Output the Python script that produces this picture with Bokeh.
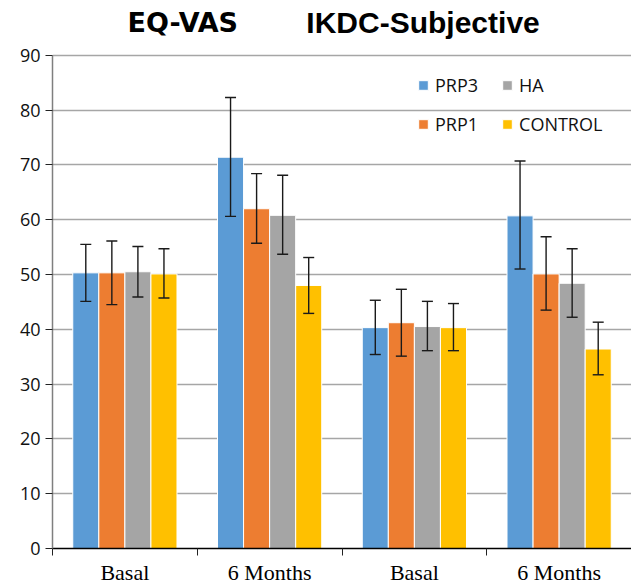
from bokeh.plotting import figure
from bokeh.models import (ColumnDataSource, Whisker, TeeHead, FixedTicker, Range1d,
                          Legend, LegendItem, Label)
from bokeh.embed import file_html
from bokeh.resources import INLINE

# ---- data ----
categories = ["Basal", "6 Months", "Basal", "6 Months"]
series = ["PRP3", "PRP1", "HA", "CONTROL"]
colors = ["#5B9BD5", "#ED7D31", "#A5A5A5", "#FFC000"]
prp3 = [50.3, 71.4, 40.3, 60.7]
prp3_hi = [55.5, 82.3, 45.3, 70.7]
prp3_lo = [45.1, 60.6, 35.4, 51.0]
prp1 = [50.3, 62.0, 41.2, 50.1]
prp1_hi = [56.1, 68.4, 47.3, 56.9]
prp1_lo = [44.5, 55.7, 35.1, 43.5]
ha = [50.5, 60.8, 40.5, 48.4]
ha_hi = [55.1, 68.1, 45.1, 54.7]
ha_lo = [45.9, 53.7, 36.1, 42.2]
control = [50.1, 48.0, 40.3, 36.4]
control_hi = [54.7, 53.1, 44.7, 41.3]
control_lo = [45.7, 42.9, 36.1, 31.7]
y_ticks = [0, 10, 20, 30, 40, 50, 60, 70, 80, 90]
titles = ["EQ-VAS", "IKDC-Subjective"]

values = [prp3, prp1, ha, control]
highs = [prp3_hi, prp1_hi, ha_hi, control_hi]
lows = [prp3_lo, prp1_lo, ha_lo, control_lo]

bar_w = 0.18
n = len(categories)

p = figure(width=631, height=587, output_backend="svg", toolbar_location=None,
           x_range=Range1d(0, n), y_range=Range1d(0, 100),
           min_border_left=52, min_border_right=0, min_border_top=0,
           min_border_bottom=36)
p.outline_line_color = None
p.background_fill_color = "white"

renderers = []
for j, (name, col) in enumerate(zip(series, colors)):
    xs = [i + 0.5 + (j - 1.5) * bar_w for i in range(n)]
    src = ColumnDataSource(dict(x=xs, top=values[j], hi=highs[j], lo=lows[j]))
    r = p.vbar(x="x", top="top", width=bar_w, source=src, fill_color=col,
               line_color="white", line_width=1)
    renderers.append(r)
    w = Whisker(base="x", upper="hi", lower="lo", source=src,
                line_color="#1a1a1a", line_width=1.4,
                upper_head=TeeHead(size=11, line_color="#1a1a1a", line_width=1.4),
                lower_head=TeeHead(size=11, line_color="#1a1a1a", line_width=1.4))
    w.level = "annotation"
    p.add_layout(w)

# axes
p.yaxis.ticker = FixedTicker(ticks=y_ticks)
p.yaxis.bounds = (0, 90)
p.yaxis.axis_line_color = "#7f7f7f"
p.yaxis.axis_line_width = 1.5
p.yaxis.major_tick_line_color = "#222222"
p.yaxis.major_tick_out = 7
p.yaxis.major_tick_in = 0
p.yaxis.minor_tick_line_color = None
p.yaxis.major_label_text_font = "Open Sans"
p.yaxis.major_label_text_font_size = "18px"
p.yaxis.major_label_text_color = "#111111"
p.yaxis.major_label_standoff = 5

centers = [i + 0.5 for i in range(n)]
p.xaxis.ticker = FixedTicker(ticks=centers, minor_ticks=list(range(n + 1)))
p.xaxis.major_label_overrides = {c: lab for c, lab in zip(centers, categories)}
p.xaxis.major_tick_line_color = None
p.xaxis.major_tick_out = 0
p.xaxis.minor_tick_line_color = "#222222"
p.xaxis.minor_tick_out = 7
p.xaxis.minor_tick_in = 0
p.xaxis.axis_line_color = "black"
p.xaxis.axis_line_width = 1.5
p.xaxis.major_label_text_font = "Liberation Serif"
p.xaxis.major_label_text_font_size = "22px"
p.xaxis.major_label_text_color = "black"
p.xaxis.major_label_standoff = 4

p.xgrid.grid_line_color = None
p.ygrid.ticker = FixedTicker(ticks=y_ticks)
p.ygrid.grid_line_color = "#a6a6a6"
p.ygrid.grid_line_width = 1.5

# legends (two rows)
leg_kw = dict(orientation="horizontal", padding=0, margin=0, spacing=23,
              border_line_color=None, background_fill_alpha=0,
              glyph_width=12, glyph_height=12, label_standoff=6,
              label_text_font="Open Sans", label_text_font_size="18px",
              label_text_color="#111111")
leg1 = Legend(items=[LegendItem(label=series[0], renderers=[renderers[0]]),
                     LegendItem(label=series[2], renderers=[renderers[2]])],
              location=(365, 451), **leg_kw)
leg2 = Legend(items=[LegendItem(label=series[1], renderers=[renderers[1]]),
                     LegendItem(label=series[3], renderers=[renderers[3]])],
              location=(365, 412), **leg_kw)
p.add_layout(leg1)
p.add_layout(leg2)

# titles (inside the frame, above the 90 line)
t1 = Label(x=0.9, y=96, x_units="data", y_units="data", text=titles[0],
           text_font="DejaVu Sans", text_font_style="bold", text_font_size="27px",
           text_align="center", text_baseline="middle", text_color="black")
t2 = Label(x=2.56, y=96, x_units="data", y_units="data", text=titles[1],
           text_font="Liberation Sans", text_font_style="bold", text_font_size="30px",
           text_align="center", text_baseline="middle", text_color="black")
p.add_layout(t1)
p.add_layout(t2)

open("out.html", "w").write(file_html(p, INLINE))
